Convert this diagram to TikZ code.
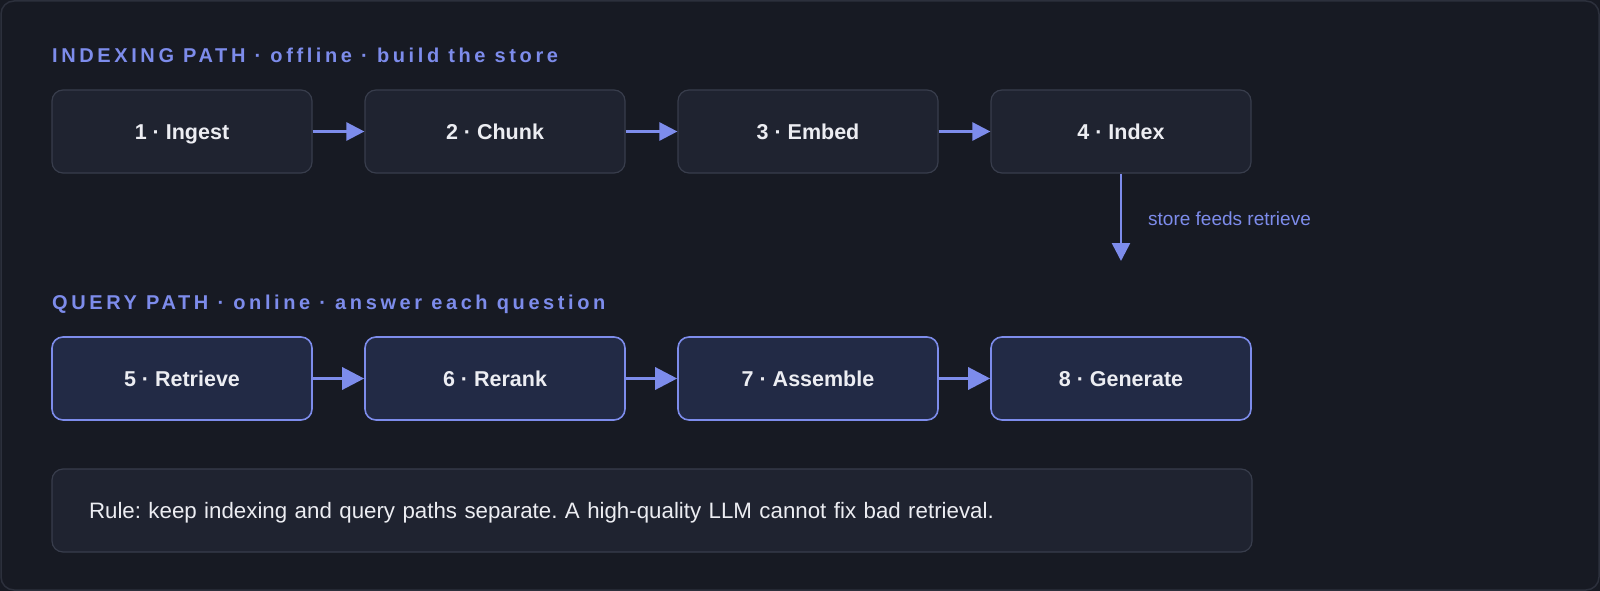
\documentclass[tikz,border=0pt]{standalone}
\usepackage{fontspec}
\setmainfont{Liberation Sans}
\newfontfamily\spacedfont[LetterSpace=18]{Liberation Sans}
\usetikzlibrary{arrows.meta}
\frenchspacing

\definecolor{pagebg}{HTML}{171A23}
\definecolor{frameline}{HTML}{2C303C}
\definecolor{idxfill}{HTML}{1F2330}
\definecolor{idxline}{HTML}{383D4C}
\definecolor{qryfill}{HTML}{222A45}
\definecolor{accent}{HTML}{7D8CEB}
\definecolor{boxtext}{HTML}{ECEDF2}

\begin{document}
\begin{tikzpicture}[x=1pt,y=-1pt,
    idxstep/.style={draw=idxline, fill=idxfill, line width=1.2pt, rounded corners=11pt,
      minimum width=260pt, minimum height=83pt, text height=15.5pt, text depth=0pt,
      text=boxtext, font=\fontsize{21.5}{26}\selectfont\bfseries},
    qrystep/.style={idxstep, draw=accent, fill=qryfill, line width=1.6pt},
    idxarrow/.style={draw=accent, line width=2.6pt, -{Triangle[length=18pt,width=18pt]}},
    qryarrow/.style={draw=accent, line width=3.2pt, -{Triangle[length=22pt,width=22pt]}},
    pathtitle/.style={anchor=west, text=accent, inner sep=0pt, font=\fontsize{20}{24}\selectfont\spacedfont\bfseries}]
  \useasboundingbox (0,0) rectangle (1600,591);
  \fill[pagebg] (0,0) rectangle (1600,591);
  \draw[frameline, line width=1.5pt, rounded corners=13pt] (1,1) rectangle (1599,590);

  % indexing path
  \node[pathtitle] (idxtitle) at (52,55) {INDEXING PATH · offline · build the store};
  \node[idxstep] (ingest) at (182,131.5) {1 · Ingest};
  \node[idxstep] (chunk) at (495,131.5) {2 · Chunk};
  \node[idxstep] (embed) at (808,131.5) {3 · Embed};
  \node[idxstep] (index) at (1121,131.5) {4 · Index};
  \draw[idxarrow] (ingest) -- (chunk);
  \draw[idxarrow] (chunk) -- (embed);
  \draw[idxarrow] (embed) -- (index);

  \coordinate (feedend) at (1121,261);
  \draw[idxarrow] (index) -- (feedend);
  \node[anchor=west, text=accent, inner sep=0pt, font=\fontsize{19}{23}\selectfont] (feedlabel) at (1148,219) {store feeds retrieve};

  % query path
  \node[pathtitle] (qrytitle) at (52,304) {QUERY PATH · online · answer each question};
  \node[qrystep] (retrieve) at (182,378.5) {5 · Retrieve};
  \node[qrystep] (rerank) at (495,378.5) {6 · Rerank};
  \node[qrystep] (assemble) at (808,378.5) {7 · Assemble};
  \node[qrystep] (generate) at (1121,378.5) {8 · Generate};
  \draw[qryarrow] (retrieve) -- (rerank);
  \draw[qryarrow] (rerank) -- (assemble);
  \draw[qryarrow] (assemble) -- (generate);

  % rule
  \node[draw=idxline, fill=idxfill, line width=1.2pt, rounded corners=11pt,
    text width=1126pt, inner xsep=37pt, minimum height=83pt, align=left,
    text height=15.5pt, text depth=0pt,
    text=boxtext, font=\fontsize{22.3}{27}\selectfont] (rule) at (652,510.5)
    {Rule: keep indexing and query paths separate. A high-quality LLM cannot fix bad retrieval.};
\end{tikzpicture}
\end{document}
